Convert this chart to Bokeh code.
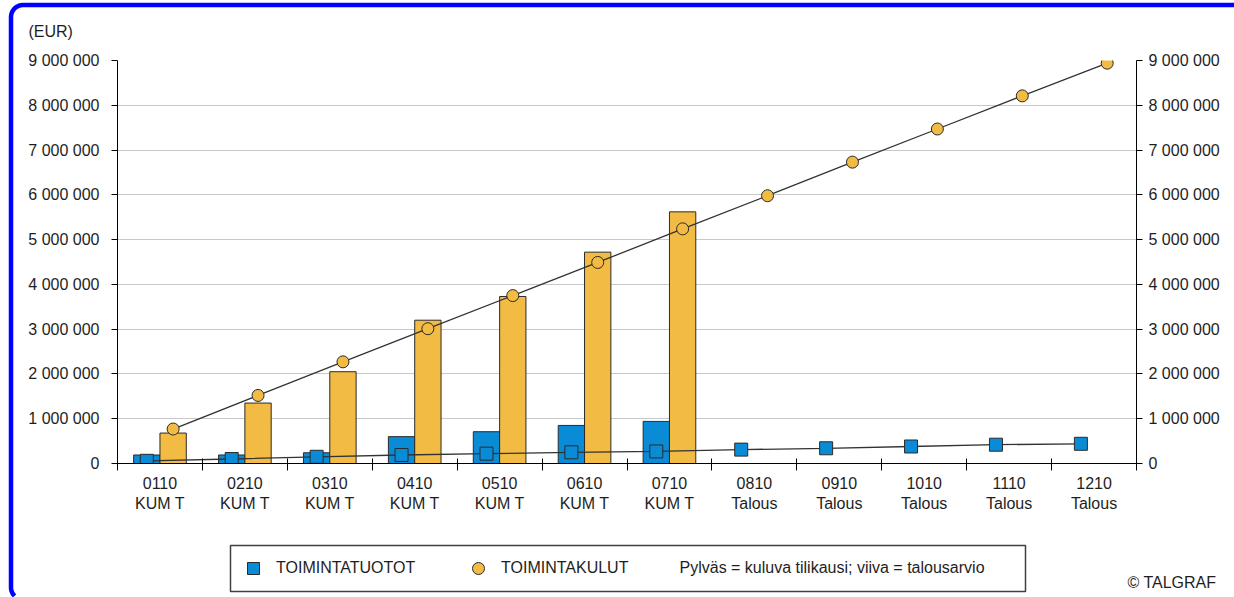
import math
from bokeh.plotting import figure
from bokeh.models import (Range1d, LinearAxis, FixedTicker, Legend, LegendItem,
                          Label, BoxAnnotation, ColumnDataSource)
from bokeh.layouts import column, row
from bokeh.embed import file_html
from bokeh.resources import INLINE

# ---- data ----
periods = ["0110", "0210", "0310", "0410", "0510", "0610", "0710",
           "0810", "0910", "1010", "1110", "1210"]
period_kind = ["KUM T"] * 7 + ["Talous"] * 5
tuotot_bars = [190000, 190000, 240000, 600000, 710000, 850000, 940000]
kulut_bars = [680000, 1350000, 2050000, 3200000, 3730000, 4720000, 5620000]
tuotot_budget = [60000, 100000, 150000, 190000, 220000, 250000, 270000,
                 310000, 340000, 380000, 420000, 440000]
kulut_budget = [770000, 1520000, 2270000, 3010000, 3750000, 4490000, 5240000,
                5980000, 6730000, 7470000, 8210000, 8940000]
y_ticks = [0, 1000000, 2000000, 3000000, 4000000, 5000000, 6000000,
           7000000, 8000000, 9000000]
y_tick_labels = ["0", "1 000 000", "2 000 000", "3 000 000", "4 000 000",
                 "5 000 000", "6 000 000", "7 000 000", "8 000 000", "9 000 000"]
legend_labels = ["TOIMINTATUOTOT", "TOIMINTAKULUT"]
note_text = "Pylväs = kuluva tilikausi; viiva  = talousarvio"
unit_text = "(EUR)"
credit_text = "© TALGRAF"

BLUE = "#0a8bd6"
ORANGE = "#f2bb44"
EDGE = "#2b2b2b"
FONT = "Liberation Sans"
TXT = "#1e1e1e"

W, H = 1234, 597

# ---------------- main chart ----------------
p = figure(width=W, height=H, output_backend="svg", toolbar_location=None,
           x_range=Range1d(0, 12), y_range=Range1d(0, 9000000),
           min_border_left=117, min_border_right=98, min_border_top=60,
           min_border_bottom=134, outline_line_color=None,
           x_axis_location=None, y_axis_location=None)
p.background_fill_color = "white"
p.border_fill_color = "white"

n = len(periods)
centers = [i + 0.5 for i in range(n)]
off = 0.155
bw = 0.31

bars_b = ColumnDataSource(dict(x=[centers[i] - off for i in range(len(tuotot_bars))], top=tuotot_bars))
bars_o = ColumnDataSource(dict(x=[centers[i] + off for i in range(len(kulut_bars))], top=kulut_bars))
p.vbar(x="x", top="top", width=bw, bottom=0, source=bars_b,
       fill_color=BLUE, line_color=EDGE, line_width=1)
p.vbar(x="x", top="top", width=bw, bottom=0, source=bars_o,
       fill_color=ORANGE, line_color=EDGE, line_width=1)

lb = ColumnDataSource(dict(x=[c - off for c in centers], y=tuotot_budget))
lo = ColumnDataSource(dict(x=[c + off for c in centers], y=kulut_budget))
p.line("x", "y", source=lb, line_color="#333333", line_width=1.3)
p.line("x", "y", source=lo, line_color="#333333", line_width=1.3)
p.scatter("x", "y", source=lb, marker="square", size=13,
          fill_color=BLUE, line_color=EDGE, line_width=1)
p.scatter("x", "y", source=lo, marker="circle", size=12,
          fill_color=ORANGE, line_color=EDGE, line_width=1)

p.xgrid.visible = False
p.ygrid.ticker = FixedTicker(ticks=y_ticks)
p.ygrid.grid_line_color = "#c8c8c8"
p.ygrid.grid_line_width = 1

overrides = {t: s for t, s in zip(y_ticks, y_tick_labels)}


def yaxis(side, standoff):
    ax = LinearAxis(ticker=FixedTicker(ticks=y_ticks, minor_ticks=[]),
                    major_label_overrides=overrides)
    ax.major_tick_in = 0
    ax.major_tick_out = 6
    ax.minor_tick_in = 0
    ax.minor_tick_out = 0
    ax.axis_line_color = "black"
    ax.major_tick_line_color = "black"
    ax.major_label_text_font = FONT
    ax.major_label_text_font_size = "16px"
    ax.major_label_text_color = TXT
    ax.major_label_standoff = standoff
    p.add_layout(ax, side)


yaxis("left", 12)
yaxis("right", 6)

xlabels = {c: f"{a}\n{b}" for c, a, b in zip(centers, periods, period_kind)}
xa = LinearAxis(ticker=FixedTicker(ticks=centers, minor_ticks=list(range(n + 1))),
                major_label_overrides=xlabels)
xa.major_tick_in = 0
xa.major_tick_out = 0
xa.major_tick_line_color = None
xa.minor_tick_in = 5
xa.minor_tick_out = 7
xa.minor_tick_line_color = "black"
xa.axis_line_color = "black"
xa.major_label_text_font = FONT
xa.major_label_text_font_size = "16px"
xa.major_label_text_color = TXT
xa.major_label_standoff = 4
p.add_layout(xa, "below")

# ---------------- overlay (frame, legend, notes) ----------------
o = figure(width=W, height=H, output_backend="svg", toolbar_location=None,
           x_range=Range1d(0, W), y_range=Range1d(H, 0),
           min_border=0, min_border_left=0, min_border_right=0,
           min_border_top=0, min_border_bottom=0,
           outline_line_color=None, x_axis_location=None, y_axis_location=None)
o.background_fill_alpha = 0
o.border_fill_alpha = 0
o.grid.visible = False

nan = float("nan")
r1 = o.scatter(x=[nan], y=[nan], marker="square", fill_color=BLUE,
               line_color=EDGE, line_width=1)
r2 = o.scatter(x=[nan], y=[nan], marker="circle", fill_color=ORANGE,
               line_color=EDGE, line_width=1)

legend = Legend(items=[LegendItem(label=legend_labels[0], renderers=[r1]),
                       LegendItem(label=legend_labels[1], renderers=[r2])],
                location=(238, 14), orientation="horizontal",
                glyph_width=30, glyph_height=30, label_standoff=8,
                label_width=170, spacing=17, padding=8, margin=0,
                border_line_color=None, background_fill_alpha=0,
                label_text_font=FONT, label_text_font_size="16px",
                label_text_color=TXT)
o.add_layout(legend, "center")

o.add_layout(BoxAnnotation(left=230, right=1025, top=545, bottom=591,
                           fill_alpha=0, line_color="#404040", line_width=1.5,
                           line_alpha=1))

# outer blue rounded frame: runs off the window to the right and bottom,
# so the path stops at the window edge (points outside would be clamped)
fx, ftop, fbot, rad = 10.5, 4.5, 599.0, 12.0
bx, by = [float(W), fx + rad], [ftop, ftop]
for k in range(1, 8):
    a = math.pi / 2 + k * (math.pi / 2) / 8
    bx.append(fx + rad + rad * math.cos(a))
    by.append(ftop + rad - rad * math.sin(a))
bx += [fx, fx]
by += [ftop + rad, fbot - rad]
for k in range(1, 12):
    a = math.pi + k * (math.pi / 2) / 12
    yy = fbot - rad - rad * math.sin(a)
    if yy > H - 0.5:
        break
    bx.append(fx + rad + rad * math.cos(a))
    by.append(yy)
o.line(bx, by, line_color="#0000ff", line_width=4.5, line_join="round")

o.add_layout(Label(x=679, y=567, text=note_text, text_font=FONT,
                   text_font_size="16px", text_color=TXT,
                   text_baseline="middle"))
o.add_layout(Label(x=28, y=31, text=unit_text, text_font=FONT,
                   text_font_size="16px", text_color=TXT,
                   text_baseline="middle"))
o.add_layout(Label(x=1127, y=582, text=credit_text, text_font=FONT,
                   text_font_size="16px", text_color=TXT,
                   text_baseline="middle"))

ov = row(o, styles={"position": "absolute", "top": "0px", "left": "0px"})
layout = column(p, ov, styles={"position": "relative"})
open("out.html", "w").write(file_html(layout, INLINE))
